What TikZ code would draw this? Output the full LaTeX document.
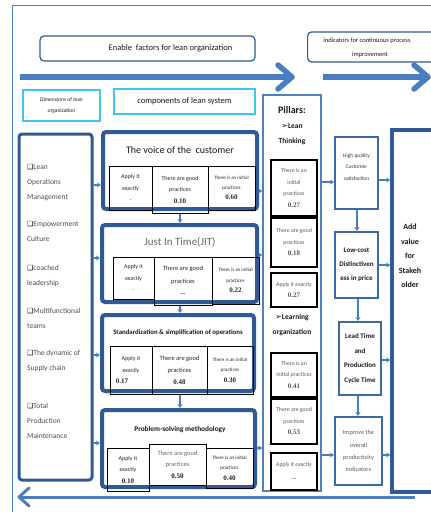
\documentclass[tikz,border=0pt]{standalone}
\usepackage{fontspec}
\setmainfont{Carlito}
\newfontfamily\numf{Liberation Serif}
\newfontfamily\symf{DejaVu Sans}
\usetikzlibrary{arrows.meta,calc}
\definecolor{dblue}{HTML}{2F5A94}
\definecolor{mblue}{HTML}{4A7EC0}
\definecolor{cyanb}{HTML}{3CC8F0}
\definecolor{pblue}{HTML}{4F81BD}
\definecolor{rblue}{HTML}{3C6AAA}
\newcommand\fsz[2]{\fontsize{#1}{#2}\selectfont}
\newcommand\valnum[1]{{\numf\bfseries\fsz{7}{8}#1}}
\newcommand\chk{{\symf\fsz{7}{7}\textcolor{black}{❑}}}
\newcommand\arrsym{{\symf\bfseries\fsz{8}{8}➢}}
\begin{document}
\begin{tikzpicture}[x=1pt,y=-1pt,
  hdr/.style={draw=dblue, line width=1.2pt, rounded corners=4pt, inner sep=0pt, font=\fsz{8.5}{10}, text=black!90},
  cyanbox/.style={draw=cyanb, line width=1.2pt, inner sep=0pt, align=center, text=black!90},
  blk/.style={draw=dblue, line width=4pt, rounded corners=3pt, inner sep=0pt},
  cell/.style={draw=black, line width=1pt, inner sep=0pt, align=center, font=\fsz{6}{11.5}, text=black!85},
  pcell/.style={draw=black, line width=1.2pt, inner sep=0pt, align=center, font=\fsz{5.8}{11.5}, text=black!65, minimum width=46pt},
  rbox/.style={draw=rblue, line width=2pt, inner sep=0pt, align=center},
  arr/.style={draw=mblue, line width=1.3pt, -{Stealth[length=4pt,width=5pt]}},
  bigarr/.style={draw=mblue, line width=5.5pt},
  ltxt/.style={inner sep=0pt, anchor=base west, font=\fsz{7.5}{9}, text=black!70},
  ttl/.style={inner sep=0pt, align=center}
]
\useasboundingbox (0,0) rectangle (431,512);
\clip (0,0) rectangle (431,512);
% outer frame
\draw[mblue, line width=1pt] (12,520) -- (12,5) -- (440,5);

% header boxes
\node[hdr, minimum width=215pt, minimum height=25pt] (enable) at (147.5,48.5) {\hspace*{46pt}Enable\ \ factors for lean organization};
\node[hdr, minimum width=140pt, minimum height=30pt, anchor=west] (ind) at (307,47) {};
\node[ttl, font=\fsz{6.5}{14}, text=black!90] (indt) at (367,48) {indicators for continuous process\\\hspace*{6pt}improvement};

% top arrows
\coordinate (ta1) at (20,77); \coordinate (ta2) at (292,77);
\coordinate (ta3) at (323,77); \coordinate (ta4) at (428,77);
\draw[bigarr] (ta1) -- ($(ta2)+(-2,0)$);
\draw[bigarr, line cap=round, line join=round] ($(ta2)+(-14,-12)$) -- (ta2) -- ($(ta2)+(-14,12)$);
\draw[bigarr] (ta3) -- ($(ta4)+(-2,0)$);
\draw[bigarr, line cap=round, line join=round] ($(ta4)+(-14,-12)$) -- (ta4) -- ($(ta4)+(-14,12)$);

% dimension / component headers
\node[cyanbox, minimum width=77pt, minimum height=31pt, font=\fsz{5.5}{11.5}] (dim) at (61.5,105.5) {Dimensions of lean\\organization};
\node[cyanbox, minimum width=141pt, minimum height=25pt, font=\fsz{8.5}{10}] (comp) at (184.5,101.5) {components of lean system};

% left dimensions box
\node[blk, line width=3pt, minimum width=73pt, minimum height=346pt] (L) at (55.5,307) {};
\foreach \t/\y [count=\i] in {{\chk Lean}/167, {Operations}/182, {Management}/197,
  {\chk Empowerment}/224, {Culture}/239,
  {\chk coached}/268, {leadership}/283,
  {\chk Multifunctional}/311, {teams}/326,
  {\chk The dynamic of}/353, {Supply chain}/368,
  {\chk Total}/406, {Production}/421, {Maintenance}/436}
  {\node[ltxt] (l\i) at (27,\y+2.7) {\t};}

% middle blocks
\node[blk, minimum width=154pt, minimum height=77pt] (b1) at (180,170.5) {};
\node[blk, minimum width=155pt, minimum height=77pt] (b2) at (179.5,263.5) {};
\node[blk, minimum width=152pt, minimum height=76pt] (b3) at (178,353) {};
\node[blk, minimum width=153pt, minimum height=77pt] (b4) at (178.5,448.5) {};

\node[ttl, font=\fsz{10}{12}, text=black!90] (t1) at (180,150) {The voice of the\ \ customer};
\node[ttl, font=\fsz{11}{13}, text=black!60] (t2) at (180,242) {Just In Time(JIT)};
\node[ttl, font=\bfseries\fsz{6.8}{8}, text=black!90] (t3) at (178,333) {Standardization \& simplification of operations};
\node[ttl, font=\bfseries\fsz{7.3}{9}, text=black!90] (t4) at (180,430) {Problem-solving methodology};

% cells block 1
\node[cell, minimum width=43pt, minimum height=44pt] (c11) at (130.5,188) {Apply it\\exactly\\-};
\node[cell, minimum width=56pt, minimum height=47pt] (c12) at (180,189.5) {There are good\\practices\\\valnum{0.10}};
\node[cell, minimum width=47pt, minimum height=44pt, font=\fsz{5}{10}] (c13) at (231.5,188) {There is an initial\\practices\\\valnum{0.60}};
% cells block 2
\node[cell, minimum width=41pt, minimum height=42pt] (c21) at (133.5,278) {Apply it\\exactly\\-};
\node[cell, minimum width=58pt, minimum height=48pt, font=\fsz{6.5}{12.5}] (c22) at (183,281) {There are good\\practices\\\valnum{--}};
\node[cell, minimum width=47pt, minimum height=47pt, font=\fsz{5}{10.5}] (c23) at (235.5,280.5) {There is an initial\\practices\\\valnum{0.22}};
% cells block 3
\node[cell, minimum width=42pt, minimum height=48pt] (c31) at (131,370) {Apply it\\exactly\\\hspace*{-18pt}\valnum{0.17}};
\node[cell, minimum width=55pt, minimum height=48pt, font=\fsz{6.5}{12}] (c32) at (179.5,370) {There are good\\practices\\\valnum{0.48}};
\node[cell, minimum width=46pt, minimum height=48pt, font=\fsz{5}{10.5}] (c33) at (230,370) {There is an initial\\practices\\\valnum{0.30}};
% cells block 4
\node[cell, minimum width=42pt, minimum height=43pt] (c41) at (128,469.5) {Apply it\\exactly\\\valnum{0.10}};
\node[cell, minimum width=57pt, minimum height=41pt, font=\fsz{6.5}{11.5}, text=black!60] (c42) at (177.5,464.5) {There are good\\practices\\\textcolor{black!90}{\valnum{0.50}}};
\node[cell, minimum width=47pt, minimum height=40pt, font=\fsz{5}{10.5}] (c43) at (229.5,468) {There is an initial\\practices\\\valnum{0.40}};

% vertical arrows between blocks
\draw[arr] (c12.south) -- (b2.north -| c12.south);
\draw[arr] (c22.south -| c12.south) -- (b3.north -| c12.south);
\draw[arr] (b3.south -| c12.south) ++(0,2) -- (b4.north -| c12.south);

% arrows from dimensions
\foreach \y/\b in {185/b1, 258/b2, 355/b3, 443/b4}
  \draw[arr] (L.east |- 0,\y) -- (\b.west |- 0,\y);

% pillars
\node[draw=pblue, line width=1.5pt, inner sep=0pt, minimum width=58pt, minimum height=396pt] (P) at (292,293) {};
\node[ttl, font=\bfseries\fsz{10}{12}, text=black!90] (pt) at (292,110) {Pillars:};
\node[ttl, font=\bfseries\fsz{7.5}{15}, text=black!90] (pl) at (292,134) {\arrsym Lean\\Thinking};
\node[pcell, minimum height=56pt] (p1) at (294,188) {There is an\\initial\\practices\\\valnum{0.27}};
\node[pcell, minimum height=49pt] (p2) at (294,242.5) {There are good\\practices\\\valnum{0.18}};
\node[pcell, minimum height=34pt] (p3) at (294,290) {Apply it exactly\\\valnum{0.27}};
\node[ttl, font=\bfseries\fsz{7.5}{15}, text=black!90] (plo) at (292,324.5) {\arrsym Learning\\organization};
\node[pcell, minimum height=44pt] (p4) at (294,375) {There is an\\initial practices\\\valnum{0.41}};
\node[pcell, minimum height=45pt] (p5) at (294,421.5) {There are good\\practices\\\valnum{0.53}};
\node[pcell, minimum height=37pt, font=\fsz{5.8}{14}] (p6) at (294,471.5) {Apply it exactly\\\valnum{--}};

% blocks to pillars
\draw[arr] (b1.east |- 0,191) -- (P.west |- 0,191);
\draw[arr] (b2.east |- 0,255) -- (P.west |- 0,255);
\draw[arr] (b4.east |- 0,448) -- (P.west |- 0,448);

% right column
\node[rbox, minimum width=43pt, minimum height=72pt] (r1) at (356.5,173) {};
\node[ttl, font=\fsz{5.5}{11.5}, text=black!80] (r1t) at (356.5,167) {High quality\\Customer\\satisfaction};
\node[rbox, minimum width=43pt, minimum height=66pt, font=\bfseries\fsz{7}{14}, text=black!90] (r2) at (356.5,265) {Low-cost\\Distinctiven\\ess in price};
\node[rbox, minimum width=42pt, minimum height=73pt, font=\bfseries\fsz{7}{14.5}, text=black!90] (r3) at (360,358.5) {Lead Time\\and\\Production\\Cycle Time};
\node[rbox, minimum width=47pt, minimum height=68pt, font=\fsz{6.3}{12.3}, text=black!65] (r4) at (358.5,451) {Improve the\\overall\\productivity\\indicators};
\node[draw=dblue, line width=3.5pt, inner sep=0pt, minimum width=55pt, minimum height=362pt] (AV) at (419.5,311) {};
\node[ttl, font=\bfseries\fsz{8}{14.5}, text=black!90] (avt) at (410,256) {Add\\value\\for\\Stakeh\\older};

\draw[arr] (P.east |- 0,182) -- (r1.west |- 0,182);
\draw[arr] (r1.east |- 0,180) -- (AV.west |- 0,180);
\draw[arr] (r1.south -| 357,0) -- (r2.north -| 357,0);
\draw[arr] (r2.east |- 0,265) -- (AV.west |- 0,265);
\draw[arr] (r2.south -| 358,0) -- (r3.north -| 358,0);
\draw[arr] (r3.east |- 0,360) -- (AV.west |- 0,360);
\draw[arr] (r3.south -| 358,0) -- (r4.north -| 358,0);
\draw[arr] (P.east |- 0,455) -- (r4.west |- 0,455);
\draw[arr] (r4.east |- 0,455) -- (AV.west |- 0,455);

% bottom return arrow
\coordinate (ba1) at (415,497); \coordinate (ba2) at (19,497);
\draw[draw=mblue, line width=3pt] (ba1) -- ($(ba2)+(1,0)$);
\draw[draw=mblue, line width=3pt, line cap=round, line join=round] ($(ba2)+(10,-9)$) -- (ba2) -- ($(ba2)+(10,9)$);
\end{tikzpicture}
\end{document}
